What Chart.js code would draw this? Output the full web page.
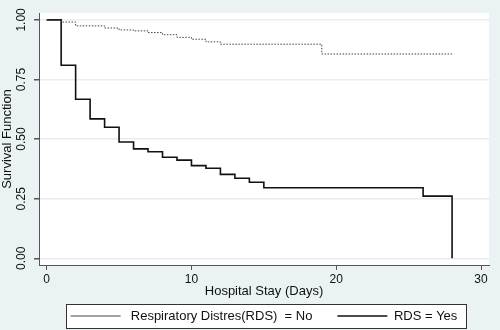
<!DOCTYPE html>
<html><head><meta charset="utf-8">
<script src="https://cdn.jsdelivr.net/npm/chart.js@4/dist/chart.umd.min.js"></script>
<style>html,body{margin:0;padding:0;background:#eaf2f3;}</style>
</head><body>
<canvas id="c" width="500" height="330"></canvas>
<script>
const noDays  = [0, 1, 2, 4, 5, 6, 7, 8, 9, 10, 11, 12, 19, 28];
const noSurv  = [1, 0.991, 0.975, 0.966, 0.958, 0.954, 0.947, 0.938, 0.927, 0.919, 0.908, 0.898, 0.857, 0.857];
const yesDays = [0, 1, 2, 3, 4, 5, 6, 7, 8, 9, 10, 11, 12, 13, 14, 15, 26, 28];
const yesSurv = [1, 0.81, 0.667, 0.585, 0.55, 0.488, 0.459, 0.447, 0.424, 0.412, 0.389, 0.378, 0.352, 0.336, 0.319, 0.296, 0.261, 0];
const seriesLabels = ['Respiratory Distres(RDS)  = No', 'RDS = Yes'];
const xTicks = [0, 10, 20, 30];
const yTicks = [0, 0.25, 0.5, 0.75, 1];
const xTitle = 'Hospital Stay (Days)';
const yTitle = 'Survival Function';

Chart.defaults.font.family = "'Liberation Sans', Arial, sans-serif";
Chart.defaults.font.size = 13;
Chart.defaults.color = '#111';

const toPts = (xs, ys) => xs.map((x, i) => ({x: x, y: ys[i]}));

const bgPlugin = {
  id: 'bg',
  beforeDraw(chart) {
    const ctx = chart.ctx, a = chart.chartArea;
    ctx.save();
    ctx.fillStyle = '#eaf2f3';
    ctx.fillRect(0, 0, chart.width, chart.height);
    ctx.fillStyle = '#ffffff';
    ctx.fillRect(a.left, a.top, a.right - a.left, a.bottom - a.top);
    const lg = chart.legend;
    if (lg && lg.legendHitBoxes && lg.legendHitBoxes.length) {
      const hb = lg.legendHitBoxes;
      const f = hb[0], l = hb[hb.length - 1];
      const cy = f.top + f.height / 2;
      const L = Math.round(f.left - 5) + 0.5;
      const R = Math.round(l.left + l.width + 9) + 0.5;
      const T = Math.round(cy - 12.5) + 0.5;
      const B = Math.round(cy + 11.5) + 0.5;
      ctx.fillRect(L, T, R - L, B - T);
      ctx.strokeStyle = '#333';
      ctx.lineWidth = 1;
      ctx.strokeRect(L, T, R - L, B - T);
    }
    ctx.restore();
  }
};

new Chart(document.getElementById('c'), {
  type: 'line',
  data: {
    datasets: [
      {label: seriesLabels[0], data: toPts(noDays, noSurv), borderColor: '#444', backgroundColor: '#444',
       borderWidth: 1, borderDash: [1.5, 1.5], stepped: 'before', pointRadius: 0, fill: false},
      {label: seriesLabels[1], data: toPts(yesDays, yesSurv), borderColor: '#111', backgroundColor: '#111',
       borderWidth: 1.6, stepped: 'before', pointRadius: 0, fill: false}
    ]
  },
  options: {
    responsive: false, animation: false, devicePixelRatio: 1,
    layout: {padding: {top: 13, right: 11, left: 0, bottom: 0}},
    scales: {
      x: {
        type: 'linear', min: -0.53, max: 30.55,
        afterBuildTicks: s => { s.ticks = xTicks.map(v => ({value: v})); },
        afterFit: s => { s.height = 34; },
        grid: {drawOnChartArea: false, drawTicks: true, tickLength: 5, tickColor: '#555', color: '#555', lineWidth: 1},
        border: {display: true, color: '#555', width: 1},
        ticks: {padding: 2, maxRotation: 0, autoSkip: false, font: {size: 12}, callback: v => String(v)},
        title: {display: true, text: xTitle, padding: {top: 0, bottom: 0}}
      },
      y: {
        type: 'linear', min: -0.028, max: 1.029,
        afterBuildTicks: s => { s.ticks = yTicks.map(v => ({value: v})); },
        afterFit: s => { s.width = 39; },
        grid: {color: '#e6eef0', lineWidth: 1.5, tickColor: '#555', tickLength: 5},
        border: {display: true, color: '#555', width: 1},
        ticks: {minRotation: 90, maxRotation: 90, crossAlign: 'center', padding: 1, autoSkip: false,
                font: {size: 12}, callback: v => Number(v).toFixed(2)},
        title: {display: true, text: yTitle, padding: {top: 0, bottom: 0}}
      }
    },
    plugins: {
      legend: {
        position: 'bottom', fullSize: false, maxHeight: 31,
        labels: {
          usePointStyle: true, pointStyle: 'line', pointStyleWidth: 50, padding: 10.5, color: '#111',
          generateLabels: chart => {
            const items = Chart.defaults.plugins.legend.labels.generateLabels(chart);
            items[0].text = ' ' + items[0].text + '    ';
            return items;
          }
        }
      },
      tooltip: {enabled: false}
    }
  },
  plugins: [bgPlugin]
});
</script>
</body></html>
